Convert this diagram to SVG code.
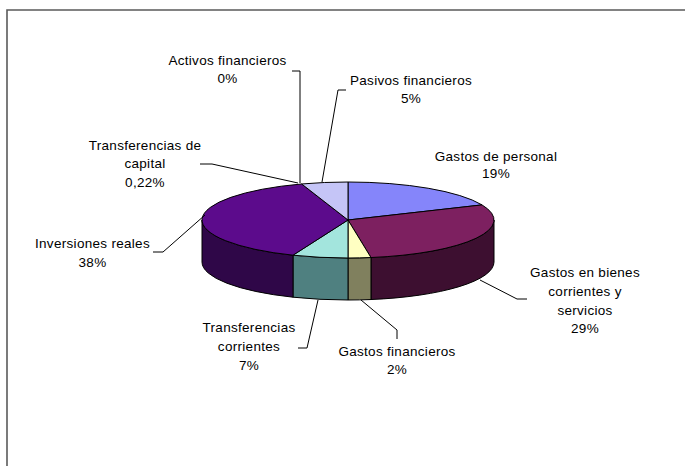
<svg xmlns="http://www.w3.org/2000/svg" width="685" height="466" viewBox="0 0 685 466">
<style>
.t{font-family:"Liberation Sans",Arial,sans-serif;font-size:13.5px;letter-spacing:0.3px;fill:#000;text-anchor:middle}
.s{stroke:#000;stroke-width:1;stroke-linejoin:round}
.ld{fill:none;stroke:#000;stroke-width:1}
</style>
<rect width="685" height="466" fill="#fff"/>
<path d="M7,466 L7,10 L685,10" fill="none" stroke="#5a5a5a" stroke-width="1.6"/>
<g id="pie-sides">
<path class="s" fill="#3d0f30" d="M494,220 A146,38 0 0 1 370.97,257.53 L370.97,299.53 A146,38 0 0 0 494,262 Z"/>
<path class="s" fill="#80805e" d="M370.97,257.53 A146,38 0 0 1 348,258 L348,300 A146,38 0 0 0 370.97,299.53 Z"/>
<path class="s" fill="#4f8080" d="M348,258 A146,38 0 0 1 293,255.2 L293,297.2 A146,38 0 0 0 348,300 Z"/>
<path class="s" fill="#2f0748" d="M293,255.2 A146,38 0 0 1 202,220 L202,262 A146,38 0 0 0 293,297.2 Z"/>
</g>
<g id="slice-personal"><path class="s" fill="#8585fa" d="M348,220 L348,182 A146,38 0 0 1 482,204.9 Z"/></g>
<g id="slice-bienes"><path class="s" fill="#7d2060" d="M348,220 L482,204.9 A146,38 0 0 1 370.97,257.53 Z"/></g>
<g id="slice-financieros"><path class="s" fill="#ffffc2" d="M348,220 L370.97,257.53 A146,38 0 0 1 348,258 Z"/></g>
<g id="slice-transf-corrientes"><path class="s" fill="#a3e5dd" d="M348,220 L348,258 A146,38 0 0 1 293,255.2 Z"/></g>
<g id="slice-inversiones"><path class="s" fill="#5c0b8c" d="M348,220 L293,255.2 A146,38 0 0 1 301.67,183.97 Z"/></g>
<g id="slice-pasivos"><path class="s" fill="#c5c5f7" d="M348,220 L301.67,183.97 A146,38 0 0 1 348,182 Z"/></g>
<g id="connectors">
<polyline class="ld" points="292,71 300,71 300,183"/>
<polyline class="ld" points="322,182 338,90 346,90"/>
<polyline class="ld" points="200,164 212,164 298,183"/>
<polyline class="ld" points="153,252 163,252 205,215"/>
<polyline class="ld" points="527,299 517,299 480,280"/>
<polyline class="ld" points="298,348 307,348 318,300"/>
<polyline class="ld" points="361,300 397,330 397,339"/>
</g>
<g id="label-activos"><text class="t" x="227.5" y="65">Activos financieros<tspan x="227.5" y="83">0%</tspan></text></g>
<g id="label-pasivos"><text class="t" x="411" y="85">Pasivos financieros<tspan x="411" y="103">5%</tspan></text></g>
<g id="label-personal"><text class="t" x="496" y="161">Gastos de personal<tspan x="496" y="178">19%</tspan></text></g>
<g id="label-transf-capital"><text class="t" x="145" y="150">Transferencias de<tspan x="145" y="168">capital</tspan><tspan x="145" y="187">0,22%</tspan></text></g>
<g id="label-inversiones"><text class="t" x="92.5" y="248">Inversiones reales<tspan x="92.5" y="267">38%</tspan></text></g>
<g id="label-bienes"><text class="t" x="585" y="277">Gastos en bienes<tspan x="585" y="296">corrientes y</tspan><tspan x="585" y="315">servicios</tspan><tspan x="585" y="333">29%</tspan></text></g>
<g id="label-transf-corrientes"><text class="t" x="249" y="332">Transferencias<tspan x="249" y="351">corrientes</tspan><tspan x="249" y="370">7%</tspan></text></g>
<g id="label-financieros"><text class="t" x="397" y="356">Gastos financieros<tspan x="397" y="374">2%</tspan></text></g>
</svg>
